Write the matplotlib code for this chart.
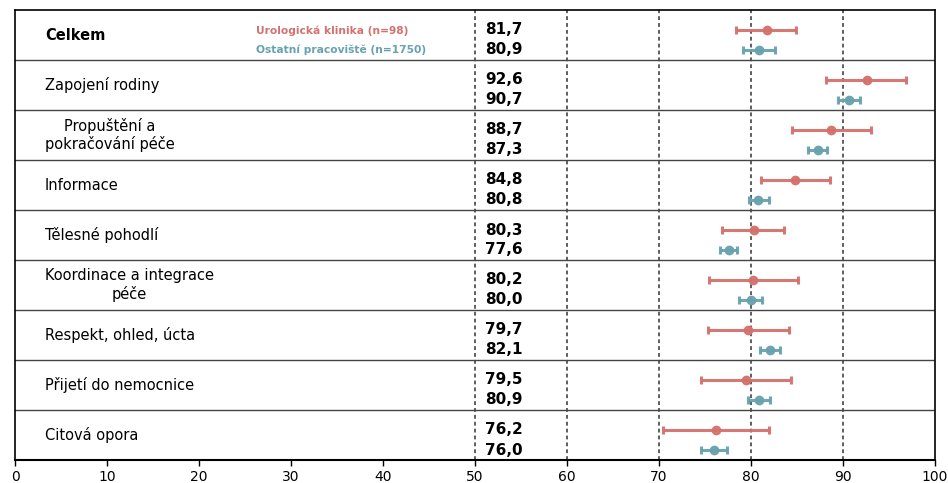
import matplotlib
matplotlib.use("Agg")
import matplotlib.pyplot as plt

categories = ["Celkem", "Zapojení rodiny", "Propuštění a\npokračování péče", "Informace",
              "Tělesné pohodlí", "Koordinace a integrace\npéče", "Respekt, ohled, úcta",
              "Přijetí do nemocnice", "Citová opora"]
uro_mean = [81.7, 92.6, 88.7, 84.8, 80.3, 80.2, 79.7, 79.5, 76.2]
uro_lo = [78.4, 88.2, 84.5, 81.1, 76.9, 75.4, 75.3, 74.6, 70.4]
uro_hi = [84.9, 96.9, 93.0, 88.6, 83.6, 85.1, 84.1, 84.3, 82.0]
oth_mean = [80.9, 90.7, 87.3, 80.8, 77.6, 80.0, 82.1, 80.9, 76.0]
oth_lo = [79.1, 89.5, 86.2, 79.8, 76.6, 78.7, 81.0, 79.7, 74.6]
oth_hi = [82.6, 91.8, 88.3, 82.0, 78.5, 81.2, 83.2, 82.1, 77.4]
legend_labels = ["Urologická klinika (n=98)", "Ostatní pracoviště (n=1750)"]
xticks = [0, 10, 20, 30, 40, 50, 60, 70, 80, 90, 100]
gridlines = [50, 60, 70, 80, 90]

RED = "#d4716d"
BLUE = "#67a2ae"

fig = plt.figure(figsize=(9.48, 4.83), dpi=100)
ax = fig.add_axes([15/948, 1-460/483, 920/948, 450/483])
n = len(categories)
ax.set_xlim(0, 100)
ax.set_ylim(n, 0)

for g in gridlines:
    ax.axvline(g, color="#333333", linestyle=(0, (2.5, 2)), linewidth=1.1, zorder=1)
for i in range(1, n):
    ax.axhline(i, color="#444444", linewidth=1.0, zorder=1)

ry = [i + 0.4 for i in range(n)]
by = [i + 0.8 for i in range(n)]
ax.errorbar(uro_mean, ry,
            xerr=[[m - l for m, l in zip(uro_mean, uro_lo)], [h - m for m, h in zip(uro_mean, uro_hi)]],
            fmt="o", color=RED, ecolor=RED, markersize=6, elinewidth=2.2, capsize=3, capthick=2.2,
            alpha=0.95, zorder=3)
ax.errorbar(oth_mean, by,
            xerr=[[m - l for m, l in zip(oth_mean, oth_lo)], [h - m for m, h in zip(oth_mean, oth_hi)]],
            fmt="o", color=BLUE, ecolor=BLUE, markersize=6, elinewidth=2.2, capsize=3, capthick=2.2,
            alpha=0.95, zorder=3)

for i, cat in enumerate(categories):
    ax.text(3.26, i + 0.5, cat, ha="left", va="center", multialignment="center",
            fontsize=10.5, fontweight="bold" if i == 0 else "normal", color="black",
            linespacing=1.2)
    ax.text(51.1, ry[i], f"{uro_mean[i]:.1f}".replace(".", ","), ha="left", va="center",
            fontsize=11, fontweight="bold")
    ax.text(51.1, by[i], f"{oth_mean[i]:.1f}".replace(".", ","), ha="left", va="center",
            fontsize=11, fontweight="bold")

ax.text(26.2, 0.42, legend_labels[0], ha="left", va="center", fontsize=7.7, fontweight="bold", color=RED)
ax.text(26.2, 0.8, legend_labels[1], ha="left", va="center", fontsize=7.7, fontweight="bold", color=BLUE)

ax.set_xticks(xticks)
ax.set_xticklabels([str(t) for t in xticks], fontsize=10)
ax.set_yticks([])
ax.tick_params(axis="x", direction="out", length=4, width=1, pad=3)
for s in ax.spines.values():
    s.set_color("black")
    s.set_linewidth(1.2)
ax.spines["bottom"].set_linewidth(1.5)

fig.savefig("out.png", dpi=100)
